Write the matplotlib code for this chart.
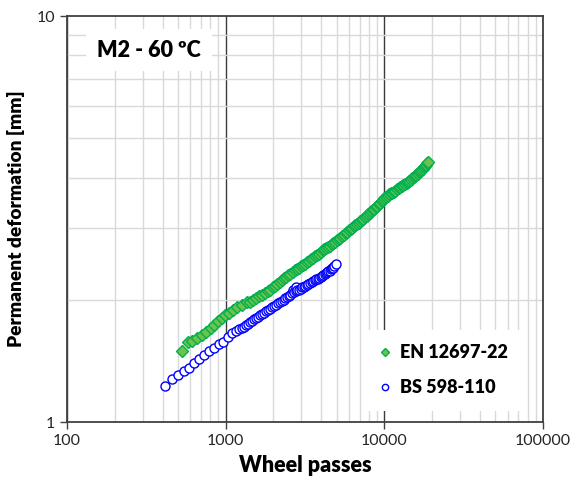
import matplotlib
matplotlib.use("Agg")
import matplotlib.pyplot as plt
from matplotlib.ticker import FixedLocator, NullFormatter, FixedFormatter

plt.rcParams['font.family'] = ['Lato', 'DejaVu Sans']

# EN 12697-22 (green diamonds)
en_passes = [528, 576, 611, 657, 706, 751, 804, 848, 898, 944, 990, 1049, 1117,
             1184, 1261, 1356, 1420, 1490, 1560, 1630, 1700, 1770, 1840, 1910,
             1980, 2050, 2120, 2190, 2260, 2330, 2400, 2480, 2560, 2640, 2720,
             2800, 2890, 2980, 3070, 3160, 3250, 3350, 3450, 3550, 3650, 3750,
             3860, 3970, 4080, 4190, 4300, 4420, 4540, 4660, 4780, 4900, 5030,
             5160, 5290, 5420, 5560, 5700, 5840, 5980, 6130, 6280, 6430, 6580,
             6740, 6900, 7060, 7220, 7390, 7560, 7730, 7900, 8080, 8260, 8440,
             8620, 8810, 9000, 9200, 9400, 9600, 9800, 10000, 10250, 10500,
             10750, 11000, 11250, 11500, 11750, 12000, 12300, 12600, 12900,
             13200, 13500, 13800, 14100, 14400, 14700, 15000, 15300, 15600,
             15900, 16200, 16500, 16800, 17100, 17400, 17700, 18000, 18300,
             18600, 18900]
en_deform = [1.50, 1.57, 1.58, 1.61, 1.64, 1.67, 1.70, 1.73, 1.77, 1.80, 1.83, 1.86, 1.89,
             1.92, 1.94, 1.97, 1.98, 2.00, 2.015, 2.04, 2.06, 2.08, 2.10, 2.12,
             2.145, 2.165, 2.19, 2.21, 2.24, 2.26, 2.28, 2.30, 2.32, 2.345, 2.365,
             2.38, 2.40, 2.42, 2.435, 2.455, 2.475, 2.495, 2.52, 2.54, 2.56, 2.58,
             2.60, 2.625, 2.645, 2.665, 2.68, 2.70, 2.72, 2.74, 2.76, 2.78, 2.80,
             2.825, 2.845, 2.87, 2.89, 2.915, 2.94, 2.97, 2.99, 3.01, 3.035, 3.055,
             3.08, 3.10, 3.12, 3.145, 3.17, 3.195, 3.22, 3.25, 3.275, 3.30, 3.33,
             3.355, 3.385, 3.41, 3.44, 3.47, 3.50, 3.53, 3.56, 3.585, 3.61,
             3.635, 3.655, 3.675, 3.695, 3.715, 3.74, 3.76, 3.785, 3.81,
             3.83, 3.855, 3.88, 3.90, 3.93, 3.955, 3.985, 4.01, 4.04,
             4.065, 4.09, 4.12, 4.145, 4.175, 4.205, 4.24, 4.27, 4.30,
             4.34, 4.38]

# BS 598-110 (blue open circles)
bs_passes = [414, 461, 503, 548, 590, 634, 682, 733, 788, 847, 908, 966, 1038,
             1091, 1161, 1218, 1260, 1300, 1340, 1380, 1420, 1460, 1500, 1550,
             1600, 1650, 1700, 1750, 1800, 1850, 1900, 1960, 2020, 2080, 2140,
             2200, 2260, 2320, 2380, 2440, 2500, 2560, 2620, 2660, 2690, 2760,
             2780, 2830, 2900, 2970, 3040, 3110, 3180, 3250, 3320, 3400, 3480,
             3560, 3640, 3720, 3800, 3880, 3960, 4040, 4120, 4200, 4280, 4360,
             4440, 4520, 4600, 4680, 4760, 4840, 4955]
bs_deform = [1.227, 1.274, 1.306, 1.335, 1.360, 1.395, 1.427, 1.462, 1.496, 1.524, 1.554, 1.577, 1.622,
             1.660, 1.675, 1.692, 1.70, 1.715, 1.73, 1.745, 1.76, 1.775, 1.79, 1.80,
             1.815, 1.83, 1.845, 1.86, 1.875, 1.885, 1.90, 1.915, 1.93, 1.945, 1.96,
             1.975, 1.99, 2.00, 2.015, 2.03, 2.045, 2.06, 2.075, 2.12, 2.085, 2.10,
             2.15, 2.11, 2.12, 2.13, 2.145, 2.155, 2.165, 2.175, 2.185, 2.20, 2.21,
             2.22, 2.235, 2.245, 2.255, 2.265, 2.28, 2.29, 2.30, 2.315, 2.325, 2.335,
             2.35, 2.36, 2.375, 2.39, 2.40, 2.42, 2.45]

x_ticks = [100, 1000, 10000, 100000]
x_tick_labels = ["100", "1000", "10000", "100000"]
y_ticks = [1, 10]
y_tick_labels = ["1", "10"]

fig = plt.figure(figsize=(5.72, 4.82), dpi=100)
ax = fig.add_axes([67/572, 1 - 422/482, 476/572, 406/482])
ax.set_xscale('log')
ax.set_yscale('log')
ax.set_xlim(100, 100000)
ax.set_ylim(1, 10)

ax.xaxis.set_major_locator(FixedLocator(x_ticks))
ax.xaxis.set_major_formatter(FixedFormatter(x_tick_labels))
ax.yaxis.set_major_locator(FixedLocator(y_ticks))
ax.yaxis.set_major_formatter(FixedFormatter(y_tick_labels))
ax.xaxis.set_minor_formatter(NullFormatter())
ax.yaxis.set_minor_formatter(NullFormatter())

ax.grid(which='minor', color='#d9d9d9', lw=1.0)
ax.grid(which='major', axis='x', color='#3a3a3a', lw=1.0)
ax.set_axisbelow(True)
ax.tick_params(which='minor', length=0)
ax.tick_params(which='major', direction='out', length=5, width=1, color='#404040',
               labelsize=11.5, labelcolor='#262626')
for s in ax.spines.values():
    s.set_color('#404040')
    s.set_linewidth(1.3)

ax.plot(en_passes, en_deform, ls='none', marker='D', ms=5.8, mfc='#6cc24a',
        mec='#00b050', mew=1.0, label='EN 12697-22', zorder=3)
ax.plot(bs_passes, bs_deform, ls='none', marker='o', ms=6.5, mfc='white',
        mec='#0000ff', mew=1.0, label='BS 598-110', zorder=4)

ax.set_xlabel('Wheel passes', fontsize=15.5, fontweight='heavy', labelpad=5)
ax.set_ylabel('Permanent deformation [mm]', fontsize=13.8, fontweight='heavy', labelpad=8)

ax.text(0.172, 0.916, 'M2 - 60 ºC', transform=ax.transAxes, fontsize=15.5,
        fontweight='heavy', ha='center', va='center', zorder=6,
        bbox=dict(boxstyle='square,pad=0.5', fc='white', ec='none'))

leg = ax.legend(loc='lower right', bbox_to_anchor=(0.975, 0.005), frameon=True,
                fancybox=False, edgecolor='none', facecolor='white', framealpha=1,
                prop=dict(size=13, weight='heavy'), handlelength=0.6,
                handletextpad=0.5, labelspacing=1.0, markerscale=0.7,
                borderpad=0.8)
leg.set_zorder(6)

fig.savefig('out.png', dpi=100)
